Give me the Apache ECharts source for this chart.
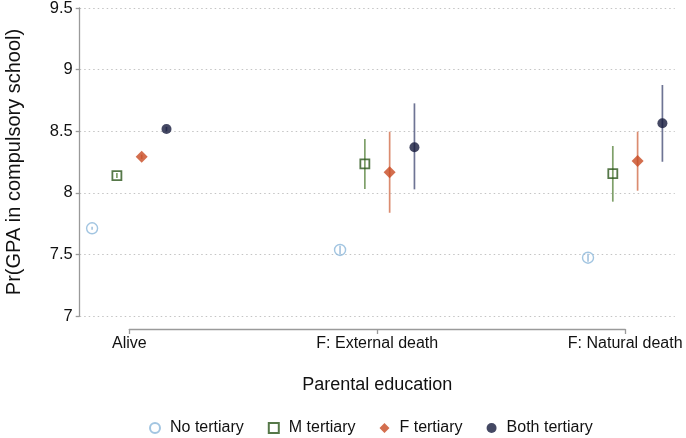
<!DOCTYPE html>
<html>
<head>
<meta charset="utf-8">
<script src="https://cdn.jsdelivr.net/npm/echarts@6/dist/echarts.min.js"></script>
<style>
html,body{margin:0;padding:0;background:#fff;}
#chart{width:686px;height:438px;}
</style>
</head>
<body>
<div id="chart"></div>
<script>
// ---- data ----
const categories = ['Alive', 'F: External death', 'F: Natural death'];
const seriesNames = ['No tertiary', 'M tertiary', 'F tertiary', 'Both tertiary'];
const yTicks = [7, 7.5, 8, 8.5, 9, 9.5];

const noTertiary      = [7.712, 7.536, 7.473];
const noTertiaryLow   = [7.700, 7.500, 7.440];
const noTertiaryHigh  = [7.725, 7.570, 7.505];

const mTertiary       = [8.139, 8.234, 8.155];
const mTertiaryLow    = [8.120, 8.031, 7.928];
const mTertiaryHigh   = [8.160, 8.437, 8.380];

const fTertiary       = [8.293, 8.166, 8.258];
const fTertiaryLow    = [8.275, 7.838, 8.017];
const fTertiaryHigh   = [8.310, 8.496, 8.496];

const bothTertiary     = [8.518, 8.369, 8.564];
const bothTertiaryLow  = [8.500, 8.028, 8.252];
const bothTertiaryHigh = [8.535, 8.726, 8.875];

// ---- build ----
const FONT = '"Liberation Sans", Arial, Helvetica, sans-serif';
const groups = [
  {name: seriesNames[0], v: noTertiary, lo: noTertiaryLow, hi: noTertiaryHigh, off: -0.15,
   symbol: 'circle', size: 11, style: {color: 'rgba(255,255,255,0)', borderColor: '#8bb6da', borderWidth: 1.4},
   bar: '#a9c6e0'},
  {name: seriesNames[1], v: mTertiary, lo: mTertiaryLow, hi: mTertiaryHigh, off: -0.05,
   symbol: 'rect', size: 9, style: {color: 'rgba(255,255,255,0)', borderColor: '#2c561c', borderWidth: 1.8},
   bar: '#7fa06a'},
  {name: seriesNames[2], v: fTertiary, lo: fTertiaryLow, hi: fTertiaryHigh, off: 0.05,
   symbol: 'diamond', size: 12, style: {color: '#c84a22'},
   bar: '#db8c70'},
  {name: seriesNames[3], v: bothTertiary, lo: bothTertiaryLow, hi: bothTertiaryHigh, off: 0.15,
   symbol: 'circle', size: 10, style: {color: '#151a3c'},
   bar: '#6e7494'}
];

const series = [];
groups.forEach(function (g) {
  series.push({
    name: g.name + ' CI',
    type: 'custom',
    xAxisIndex: 0, yAxisIndex: 0,
    z: 2,
    silent: true,
    data: g.v.map(function (_, i) { return [i + 1 + g.off, g.lo[i], g.hi[i]]; }),
    renderItem: function (params, api) {
      const p1 = api.coord([api.value(0), api.value(1)]);
      const p2 = api.coord([api.value(0), api.value(2)]);
      return {type: 'line', shape: {x1: p1[0], y1: p1[1], x2: p2[0], y2: p2[1]},
              style: {stroke: g.bar, lineWidth: 1.7}};
    }
  });
  series.push({
    name: g.name,
    type: 'scatter',
    xAxisIndex: 0, yAxisIndex: 0,
    z: 3,
    symbol: g.symbol,
    symbolSize: g.size,
    itemStyle: g.style,
    data: g.v.map(function (y, i) { return [i + 1 + g.off, y]; })
  });
});

const chart = echarts.init(document.getElementById('chart'), null, {renderer: 'canvas'});
chart.setOption({
  animation: false,
  backgroundColor: '#ffffff',
  textStyle: {fontFamily: FONT},
  grid: [
    {left: 79.7, right: 11.2, top: 8, bottom: 122, containLabel: false, outerBoundsMode: 'none'},
    {left: 129.3, right: 60.8, top: 300, bottom: 109, containLabel: false, outerBoundsMode: 'none'}
  ],
  legend: {
    data: seriesNames,
    left: 149, top: 420, padding: 0,
    itemWidth: 10, itemHeight: 10, itemGap: 24,
    textStyle: {fontFamily: FONT, fontSize: 16, color: '#111', padding: [0, 0, 0, 5]}
  },
  xAxis: [
    {gridIndex: 0, type: 'value', min: 0.8, max: 3.2, show: false},
    {gridIndex: 1, type: 'value', min: 1, max: 3, interval: 1, position: 'bottom',
     name: 'Parental education', nameLocation: 'middle', nameGap: 47,
     nameTextStyle: {fontFamily: FONT, fontSize: 18, color: '#111'},
     axisLine: {show: true, lineStyle: {color: '#9a9a9a', width: 1.3}},
     axisTick: {show: true, length: 5, lineStyle: {color: '#9a9a9a', width: 1.3}},
     splitLine: {show: false},
     axisLabel: {fontFamily: FONT, fontSize: 16, color: '#111', margin: 7,
       formatter: function (v) { return categories[Math.round(v) - 1] || ''; }}}
  ],
  yAxis: [
    {gridIndex: 0, type: 'value', min: yTicks[0], max: yTicks[yTicks.length - 1], interval: 0.5,
     name: 'Pr(GPA in compulsory school)', nameLocation: 'middle', nameGap: 55,
     nameTextStyle: {fontFamily: FONT, fontSize: 20, color: '#111'},
     axisLine: {show: true, lineStyle: {color: '#9a9a9a', width: 1.3}},
     axisTick: {show: true, length: 4, lineStyle: {color: '#9a9a9a', width: 1.3}},
     axisLabel: {fontFamily: FONT, fontSize: 16.5, color: '#111', margin: 7},
     splitLine: {show: true, lineStyle: {color: '#c4c4c4', type: [1.5, 3], width: 1}}},
    {gridIndex: 1, type: 'value', show: false}
  ],
  series: series
});
</script>
</body>
</html>
